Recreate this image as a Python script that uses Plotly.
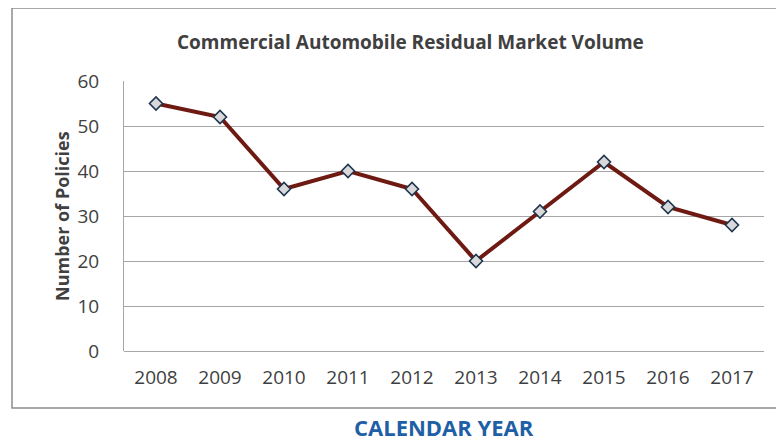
import plotly.graph_objects as go

# Data
years = ["2008", "2009", "2010", "2011", "2012", "2013", "2014", "2015", "2016", "2017"]
policies = [55, 52, 36, 40, 36, 20, 31, 42, 32, 28]
y_ticks = [0, 10, 20, 30, 40, 50, 60]

TEXT_COLOR = "#404040"
GRID_COLOR = "#a6a6a6"
LINE_COLOR = "#6e1a12"
FONT = "Open Sans, sans-serif"

fig = go.Figure()

fig.add_trace(go.Scatter(
    x=years,
    y=policies,
    mode="lines+markers",
    line=dict(color=LINE_COLOR, width=4),
    marker=dict(symbol="diamond", size=10, color="#d9d9d9",
                line=dict(color="#1f3550", width=1.6)),
    showlegend=False,
))

fig.update_layout(
    width=784,
    height=442,
    # the page body adds an 8px offset, so margins are trimmed to match
    margin=dict(l=116, r=28, t=73, b=99),
    paper_bgcolor="white",
    plot_bgcolor="white",
    font=dict(family=FONT, color=TEXT_COLOR, size=19),
    xaxis=dict(
        type="category",
        range=[-0.5, 9.5],
        showgrid=False,
        showline=False,
        ticks="",
        ticklabelstandoff=13,
        tickfont=dict(size=19, color=TEXT_COLOR),
    ),
    yaxis=dict(
        range=[0, 60],
        tickvals=y_ticks,
        showgrid=True,
        gridcolor=GRID_COLOR,
        gridwidth=1,
        zeroline=True,
        zerolinecolor=GRID_COLOR,
        zerolinewidth=1,
        showline=True,
        linecolor=GRID_COLOR,
        linewidth=1,
        ticks="",
        ticklabelstandoff=20,
        tickfont=dict(size=19, color=TEXT_COLOR),
    ),
    shapes=[
        # outer chart frame (right edge runs off the picture)
        dict(type="rect", xref="paper", yref="paper",
             x0=-0.175, x1=1.1, y0=-0.211, y1=1.27,
             line=dict(color="#8c8c8c", width=1.5), layer="below"),
    ],
    annotations=[
        dict(text="<b>Commercial Automobile Residual Market Volume</b>",
             xref="paper", yref="paper", x=0.447, y=1.143,
             showarrow=False, xanchor="center", yanchor="middle",
             font=dict(family=FONT, size=19, color=TEXT_COLOR)),
        dict(text="<b>Number of Policies</b>",
             xref="paper", yref="paper", x=-0.097, y=0.5, textangle=-90,
             showarrow=False, xanchor="center", yanchor="middle",
             font=dict(family=FONT, size=18, color=TEXT_COLOR)),
        dict(text="<b>CALENDAR YEAR</b>",
             xref="paper", yref="paper", x=0.5, y=-0.28,
             showarrow=False, xanchor="center", yanchor="middle",
             font=dict(family=FONT, size=22, color="#1f5fa6")),
    ],
)

fig.write_html("out.html")
